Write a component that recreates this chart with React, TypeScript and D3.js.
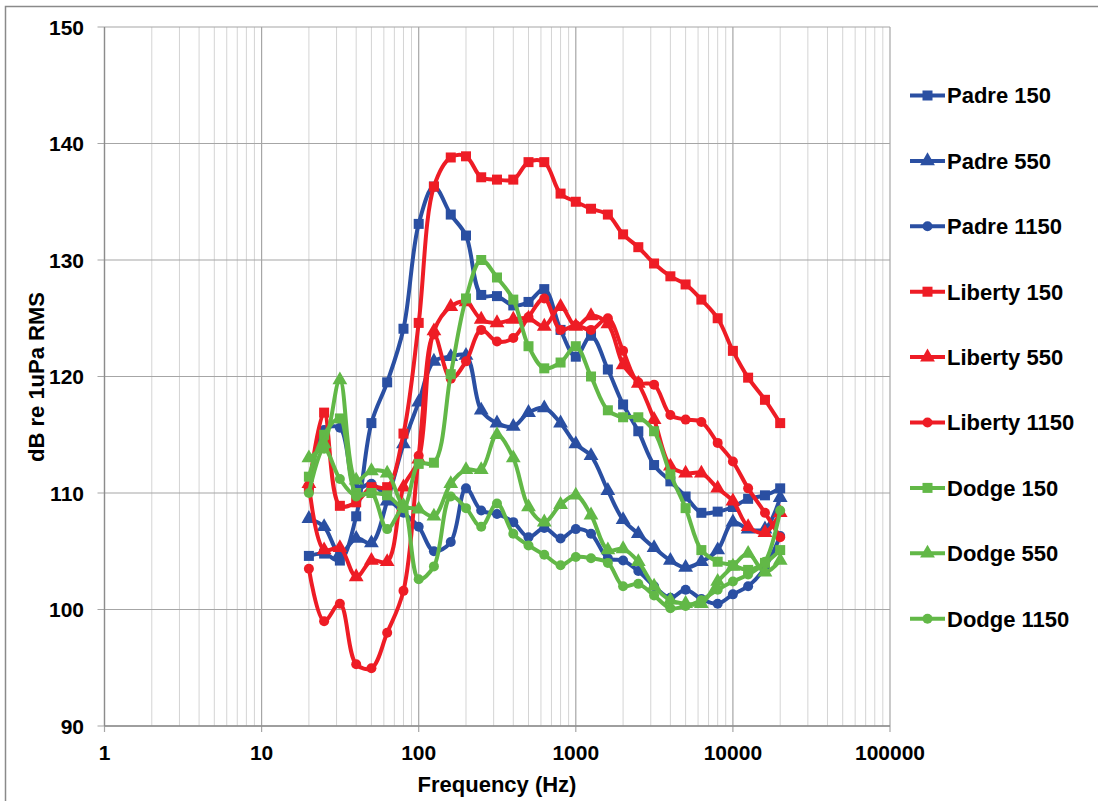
import React from "react";
import * as d3 from "d3";

const freqs = [20, 25, 31.5, 40, 50, 63, 80, 100, 125, 160, 200, 250, 315, 400, 500, 630, 800, 1000, 1250, 1600, 2000, 2500, 3150, 4000, 5000, 6300, 8000, 10000, 12500, 16000, 20000];

const padre150 = [104.6, 104.8, 104.2, 108.0, 116.0, 119.5, 124.1, 133.1, 136.3, 133.9, 132.1, 127.0, 126.9, 126.1, 126.4, 127.5, 124.0, 121.7, 123.5, 120.6, 117.6, 115.3, 112.4, 111.0, 109.7, 108.3, 108.4, 108.8, 109.5, 109.8, 110.4];
const padre550 = [107.8, 107.1, 104.8, 106.1, 105.7, 109.3, 114.2, 117.8, 121.3, 121.7, 121.8, 117.1, 116.0, 115.7, 116.9, 117.3, 116.0, 114.2, 113.2, 110.2, 107.7, 106.5, 105.3, 104.2, 103.6, 104.1, 105.1, 107.5, 106.9, 106.9, 109.6];
const padre1150 = [110.4, 115.4, 115.6, 110.4, 110.8, 109.6, 108.3, 107.1, 105.0, 105.8, 110.4, 108.5, 108.2, 107.5, 106.2, 107.0, 106.1, 106.9, 106.5, 104.4, 104.2, 103.3, 102.0, 101.0, 101.7, 100.9, 100.5, 101.3, 102.0, 103.6, 106.3];
const liberty150 = [110.4, 116.9, 108.9, 109.2, 110.5, 110.5, 115.1, 124.6, 136.3, 138.8, 138.9, 137.1, 136.9, 136.9, 138.4, 138.4, 135.7, 135.0, 134.4, 133.9, 132.2, 131.1, 129.7, 128.6, 127.9, 126.6, 125.0, 122.2, 119.9, 118.0, 116.0];
const liberty550 = [110.8, 105.1, 105.3, 102.8, 104.2, 104.1, 110.5, 112.9, 123.9, 126.0, 126.4, 124.9, 124.6, 124.9, 125.0, 124.3, 126.0, 124.3, 125.2, 124.5, 121.0, 119.4, 116.3, 112.3, 111.7, 111.7, 110.4, 109.3, 107.1, 106.6, 108.3];
const liberty1150 = [103.5, 99.0, 100.5, 95.3, 94.95, 98.0, 101.6, 113.2, 123.6, 119.8, 121.3, 124.0, 123.0, 123.3, 125.1, 126.7, 124.0, 124.4, 124.0, 125.0, 122.2, 119.5, 119.3, 116.7, 116.3, 116.1, 114.3, 112.7, 110.4, 108.3, 106.2];
const dodge150 = [111.4, 115.0, 116.4, 110.0, 110.0, 109.8, 108.8, 112.5, 112.6, 120.2, 126.7, 130.0, 128.5, 126.6, 122.6, 120.7, 121.2, 122.6, 120.0, 117.1, 116.5, 116.5, 115.3, 111.6, 108.7, 105.1, 104.1, 103.8, 103.4, 104.0, 105.1];
const dodge550 = [113.0, 114.2, 119.7, 111.1, 111.9, 111.7, 108.9, 108.6, 108.0, 110.8, 112.0, 112.0, 115.0, 113.0, 108.8, 107.5, 109.0, 109.8, 108.1, 105.1, 105.2, 104.1, 102.0, 100.8, 100.5, 100.5, 102.4, 103.7, 104.8, 103.2, 104.2];
const dodge1150 = [110.0, 113.8, 111.2, 109.7, 110.0, 106.9, 108.7, 102.6, 103.7, 109.7, 108.7, 107.1, 109.1, 106.5, 105.5, 104.7, 103.8, 104.5, 104.4, 104.0, 102.0, 102.2, 101.2, 100.1, 100.3, 100.8, 101.7, 102.4, 103.0, 104.1, 108.5];

const seriesNames = ["Padre 150", "Padre 550", "Padre 1150", "Liberty 150", "Liberty 550", "Liberty 1150", "Dodge 150", "Dodge 550", "Dodge 1150"];
const seriesValues = [padre150, padre550, padre1150, liberty150, liberty550, liberty1150, dodge150, dodge550, dodge1150];
const seriesColors = ["#2A4FA2", "#2A4FA2", "#2A4FA2", "#EE1C25", "#EE1C25", "#EE1C25", "#62B847", "#62B847", "#62B847"];
const seriesMarkers = ["square", "triangle", "circle", "square", "triangle", "circle", "square", "triangle", "circle"];

const xTicks = [1, 10, 100, 1000, 10000, 100000];
const yTicks = [90, 100, 110, 120, 130, 140, 150];

const FONT = "'Liberation Sans', Arial, Helvetica, sans-serif";

function Marker({ type, x, y, color }: { type: string; x: number; y: number; color: string }) {
  if (type === "square") {
    return <rect x={x - 5} y={y - 5} width={10} height={10} fill={color} />;
  }
  if (type === "triangle") {
    const sym = d3.symbol(d3.symbolTriangle, 95)();
    return <path d={sym || ""} transform={`translate(${x},${y})`} fill={color} />;
  }
  return <circle cx={x} cy={y} r={5} fill={color} />;
}

export default function App() {
  const W = 1098;
  const H = 801;
  const x = d3.scaleLog().domain([1, 100000]).range([104.5, 890]);
  const y = d3.scaleLinear().domain([90, 150]).range([726, 27]);

  const minor: number[] = [];
  for (let d = 1; d < 100000; d *= 10) {
    for (let k = 2; k <= 9; k++) minor.push(k * d);
  }

  const line = d3
    .line<number>()
    .x((_, i) => x(freqs[i]))
    .y((v) => y(v))
    .curve(d3.curveCatmullRom.alpha(0.5));

  const legendX = 910;
  const legendY0 = 95.5;
  const legendStep = 65.4;

  return (
    <div style={{ position: "absolute", left: 0, top: 0, width: W, height: H, background: "#fff" }}>
      <svg width={W} height={H} style={{ display: "block" }}>
        <rect x={0} y={0} width={W} height={H} fill="#fff" />
        <rect x={5.5} y={6.5} width={1300} height={1000} fill="none" stroke="#8a8a8a" strokeWidth={1.5} />

        {minor.map((m) => (
          <line key={"mn" + m} x1={x(m)} x2={x(m)} y1={y(150)} y2={y(90)} stroke="#d4d4d4" strokeWidth={1} />
        ))}
        {xTicks.map((t) => (
          <line key={"mx" + t} x1={x(t)} x2={x(t)} y1={y(150)} y2={y(90) + 6} stroke="#a6a6a6" strokeWidth={1.2} />
        ))}
        {yTicks.map((t) => (
          <line key={"hy" + t} x1={x(1) - 7} x2={x(100000)} y1={y(t)} y2={y(t)} stroke="#a6a6a6" strokeWidth={1.2} />
        ))}
        <line x1={x(1)} x2={x(1)} y1={y(150)} y2={y(90)} stroke="#8c8c8c" strokeWidth={1.3} />
        <line x1={x(1)} x2={x(100000)} y1={y(90)} y2={y(90)} stroke="#8c8c8c" strokeWidth={1.3} />

        {yTicks.map((t) => (
          <text key={"yl" + t} x={84} y={y(t)} dy="0.36em" textAnchor="end" fontFamily={FONT} fontWeight="bold" fontSize={21} fill="#000">
            {t}
          </text>
        ))}
        {xTicks.map((t) => (
          <text key={"xl" + t} x={x(t)} y={752} dy="0.36em" textAnchor="middle" fontFamily={FONT} fontWeight="bold" fontSize={21} fill="#000">
            {t}
          </text>
        ))}

        <text x={497} y={784} dy="0.36em" textAnchor="middle" fontFamily={FONT} fontWeight="bold" fontSize={22} fill="#000">
          Frequency (Hz)
        </text>
        <text transform={`translate(36,377) rotate(-90)`} dy="0.36em" textAnchor="middle" fontFamily={FONT} fontWeight="bold" fontSize={22} fill="#000">
          dB re 1uPa RMS
        </text>

        {seriesValues.map((vals, si) => (
          <g key={"s" + si}>
            <path d={line(vals) || ""} fill="none" stroke={seriesColors[si]} strokeWidth={4} strokeLinejoin="round" strokeLinecap="round" />
            {vals.map((v, i) => (
              <Marker key={i} type={seriesMarkers[si]} x={x(freqs[i])} y={y(v)} color={seriesColors[si]} />
            ))}
          </g>
        ))}

        {seriesNames.map((n, si) => {
          const ly = legendY0 + si * legendStep;
          return (
            <g key={"lg" + si}>
              <line x1={legendX} x2={legendX + 35} y1={ly} y2={ly} stroke={seriesColors[si]} strokeWidth={4} />
              <Marker type={seriesMarkers[si]} x={legendX + 17.5} y={ly} color={seriesColors[si]} />
              <text x={legendX + 37} y={ly} dy="0.36em" fontFamily={FONT} fontWeight="bold" fontSize={22} fill="#000">
                {n}
              </text>
            </g>
          );
        })}
      </svg>
    </div>
  );
}
